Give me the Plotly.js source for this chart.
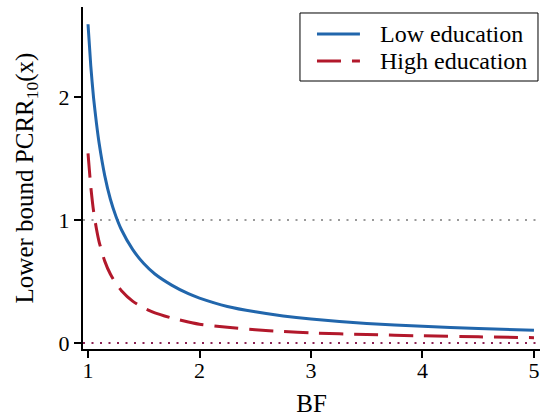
<!DOCTYPE html>
<html>
<head>
<meta charset="utf-8">
<script src="https://cdn.plot.ly/plotly-3.0.1.min.js"></script>
<style>html,body{margin:0;padding:0;background:#fff;}#chart{width:544px;height:417px;}</style>
</head>
<body>
<div id="chart"></div>
<script>
// Bayes factor grid (x axis)
const bf = [1.0, 1.025, 1.05, 1.075, 1.1, 1.15, 1.2, 1.25, 1.3, 1.4, 1.5, 1.6, 1.75, 1.9, 2.0, 2.25, 2.5, 2.75, 3.0, 3.5, 4.0, 4.5, 5.0];
// Lower bound PCRR10(x)
const lowEducation  = [2.59, 2.25, 1.99, 1.79, 1.62, 1.36, 1.17, 1.03, 0.92, 0.76, 0.645, 0.56, 0.47, 0.40, 0.365, 0.297, 0.253, 0.219, 0.194, 0.158, 0.135, 0.117, 0.103];
const highEducation = [1.54, 1.27, 1.07, 0.93, 0.82, 0.665, 0.56, 0.485, 0.425, 0.34, 0.285, 0.245, 0.203, 0.17, 0.152, 0.127, 0.107, 0.093, 0.082, 0.068, 0.058, 0.05, 0.043];
const seriesNames = ["Low education", "High education"];
const refLevels = [1, 0];
const xTicks = [1, 2, 3, 4, 5];
const yTicks = [0, 1, 2];

const serif = "'Liberation Serif', 'Times New Roman', serif";
const colors = ["#2166ac", "#b2182b"];
const dashes = ["solid", "24px,11px"];

const traces = [
  {x: bf, y: lowEducation, name: seriesNames[0], type: "scatter", mode: "lines",
   line: {color: colors[0], width: 3, dash: dashes[0], shape: "spline", smoothing: 0.6}},
  {x: bf, y: highEducation, name: seriesNames[1], type: "scatter", mode: "lines",
   line: {color: colors[1], width: 3, dash: dashes[1], shape: "spline", smoothing: 0.6}}
];

const refColors = ["#9a9a9a", "#8b2252"];
const shapes = refLevels.map((v, i) => ({
  type: "line", xref: "paper", x0: 0, x1: 1, yref: "y", y0: v, y1: v, layer: "below",
  line: {color: refColors[i], width: 2, dash: "2px,6.5px"}
}));

// Legend drawn in paper coordinates (box, samples, labels)
const legBox = {x0: 0.4748, x1: 0.9956, y0: 0.7836, y1: 0.9825};
const legRows = [0.9211, 0.8421];
const legLine = [0.512, 0.606];
const legTextX = 0.6455;
shapes.push({type: "rect", xref: "paper", yref: "paper",
  x0: legBox.x0, x1: legBox.x1, y0: legBox.y0, y1: legBox.y1,
  line: {color: "#000", width: 1}, fillcolor: "#fff", layer: "above"});
const annotations = [];
seriesNames.forEach((name, i) => {
  shapes.push({type: "line", xref: "paper", yref: "paper",
    x0: legLine[0], x1: legLine[1], y0: legRows[i], y1: legRows[i],
    line: {color: colors[i], width: 3, dash: dashes[i]}, layer: "above"});
  annotations.push({xref: "paper", yref: "paper", x: legTextX, y: legRows[i],
    xanchor: "left", yanchor: "middle", showarrow: false, text: name,
    font: {family: serif, size: 24, color: "#000"}});
});

const layout = {
  width: 544, height: 417,
  margin: {l: 83, r: 4, t: 7, b: 68},
  paper_bgcolor: "#fff", plot_bgcolor: "#fff",
  font: {family: serif, color: "#000", size: 22},
  showlegend: false,
  xaxis: {range: [0.955, 5.054], tickvals: xTicks, ticktext: xTicks.map(String),
          showgrid: false, zeroline: false, showline: true, linecolor: "#000", linewidth: 2,
          ticks: "outside", ticklen: 7, tickwidth: 2, tickcolor: "#000",
          ticklabelstandoff: -6,
          tickfont: {family: serif, size: 22, color: "#000"},
          title: {text: "BF", font: {family: serif, size: 25, color: "#000"}, standoff: 20}},
  yaxis: {range: [-0.049, 2.73], tickvals: yTicks, ticktext: yTicks.map(String),
          showgrid: false, zeroline: false, showline: true, linecolor: "#000", linewidth: 2,
          ticks: "outside", ticklen: 7, tickwidth: 2, tickcolor: "#000",
          tickfont: {family: serif, size: 22, color: "#000"},
          title: {text: "Lower bound PCRR<sub>10</sub>(x)", font: {family: serif, size: 25, color: "#000"}, standoff: 18}},
  shapes: shapes,
  annotations: annotations
};

Plotly.newPlot("chart", traces, layout, {staticPlot: true, displayModeBar: false});
</script>
</body>
</html>
